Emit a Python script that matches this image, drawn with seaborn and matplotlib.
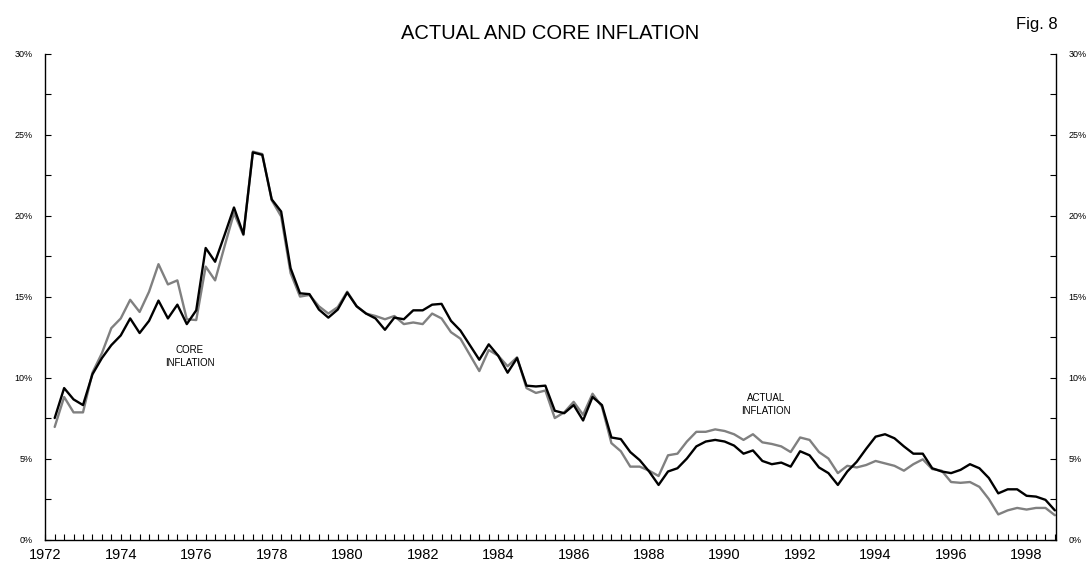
import numpy as np
import pandas as pd
import matplotlib
matplotlib.use("Agg")
import matplotlib.pyplot as plt
import seaborn as sns
from matplotlib.ticker import FuncFormatter, MultipleLocator

# Quarterly series, 1972Q2 - 1998Q4 (annual rate, %)
quarters = pd.period_range("1972Q2", "1998Q4", freq="Q")

core_inflation = [
    7.5, 9.35, 8.65, 8.3, 10.2, 11.2, 12.0, 12.6, 13.65, 12.75, 13.5, 14.75,
    13.65, 14.5, 13.3, 14.15, 18.0, 17.15, 18.8, 20.5, 18.85, 23.9, 23.75, 21.0,
    20.25, 16.75, 15.2, 15.15, 14.2, 13.7, 14.2, 15.25, 14.4, 13.95, 13.65, 12.95,
    13.7, 13.6, 14.15, 14.15, 14.5, 14.55, 13.5, 12.9, 12.0, 11.1, 12.05, 11.35,
    10.3, 11.2, 9.5, 9.45, 9.5, 7.95, 7.8, 8.3, 7.35, 8.8, 8.3, 6.3,
    6.2, 5.4, 4.9, 4.2, 3.37, 4.2, 4.4, 5.0, 5.75, 6.05, 6.15, 6.05,
    5.8, 5.3, 5.5, 4.85, 4.65, 4.75, 4.5, 5.45, 5.2, 4.45, 4.1, 3.37,
    4.2, 4.8, 5.6, 6.35, 6.5, 6.25, 5.75, 5.3, 5.3, 4.4, 4.2, 4.1,
    4.3, 4.65, 4.4, 3.8, 2.85, 3.1, 3.1, 2.7, 2.65, 2.45, 1.8,
]

actual_inflation = [
    6.95, 8.8, 7.85, 7.85, 10.3, 11.5, 13.05, 13.65, 14.8, 14.05, 15.3, 17.0,
    15.75, 16.0, 13.6, 13.55, 16.85, 16.0, 18.1, 20.15, 18.8, 23.95, 23.8, 20.95,
    19.95, 16.45, 15.0, 15.1, 14.4, 13.95, 14.35, 15.3, 14.4, 13.95, 13.8, 13.6,
    13.8, 13.3, 13.4, 13.3, 13.95, 13.65, 12.8, 12.4, 11.4, 10.4, 11.7, 11.35,
    10.7, 11.25, 9.35, 9.05, 9.2, 7.5, 7.85, 8.5, 7.7, 9.0, 8.2, 5.95,
    5.45, 4.5, 4.5, 4.25, 3.92, 5.2, 5.3, 6.05, 6.65, 6.65, 6.8, 6.7,
    6.5, 6.15, 6.5, 6.0, 5.9, 5.75, 5.4, 6.3, 6.15, 5.4, 5.0, 4.1,
    4.55, 4.45, 4.6, 4.85, 4.7, 4.55, 4.25, 4.65, 4.95, 4.35, 4.25, 3.55,
    3.5, 3.55, 3.25, 2.5, 1.55, 1.8, 1.95, 1.85, 1.95, 1.95, 1.5,
]

year_labels = list(range(1972, 1999, 2))

df = pd.DataFrame({
    "t": quarters.year + (quarters.quarter - 1) / 4,
    "core": core_inflation,
    "actual": actual_inflation,
})

sns.set_style("white")
plt.rcParams["font.family"] = ["Liberation Sans", "DejaVu Sans"]
plt.rcParams["text.color"] = "black"
plt.rcParams["xtick.color"] = "black"
plt.rcParams["ytick.color"] = "black"

fig = plt.figure(figsize=(10.88, 5.65), dpi=100)
ax = fig.add_axes([0.0416, 0.0451, 0.929, 0.860])

sns.lineplot(data=df, x="t", y="actual", color="#808080", linewidth=1.7, ax=ax)
sns.lineplot(data=df, x="t", y="core", color="black", linewidth=1.7, ax=ax)

ax.set_xlim(1972.0, 1998.78)
ax.set_ylim(0, 30)
ax.set_xlabel("")
ax.set_ylabel("")

# axes frame
ax.spines["top"].set_visible(False)
for s in ["left", "right", "bottom"]:
    ax.spines[s].set_color("black")
    ax.spines[s].set_linewidth(1.0)

# y axis on both sides
ax.yaxis.set_major_locator(MultipleLocator(5))
ax.yaxis.set_minor_locator(MultipleLocator(2.5))
ax.yaxis.set_major_formatter(FuncFormatter(lambda v, p: f"{v:.0f}%"))
ax.tick_params(axis="y", which="both", direction="in", left=True, right=True,
               labelleft=True, labelright=True, length=4, width=0.8,
               labelsize=6.5, pad=9)

# x axis: quarterly ticks, labels every two years
ax.set_xticks(year_labels)
ax.set_xticklabels([str(y) for y in year_labels])
ax.xaxis.set_minor_locator(MultipleLocator(0.25))
ax.tick_params(axis="x", which="both", direction="in", bottom=True,
               length=4, width=0.8, labelsize=10.5, pad=6)

ax.text(1975.83, 11.3, "CORE\nINFLATION", ha="center", va="center",
        fontsize=7, linespacing=1.35)
ax.text(1991.09, 8.35, "ACTUAL\nINFLATION", ha="center", va="center",
        fontsize=7, linespacing=1.35)

fig.text(0.506, 0.940, "ACTUAL AND CORE INFLATION", ha="center", va="center",
         fontsize=14.5)
fig.text(0.953, 0.956, "Fig. 8", ha="center", va="center", fontsize=12)

fig.savefig("out.png", dpi=100)
